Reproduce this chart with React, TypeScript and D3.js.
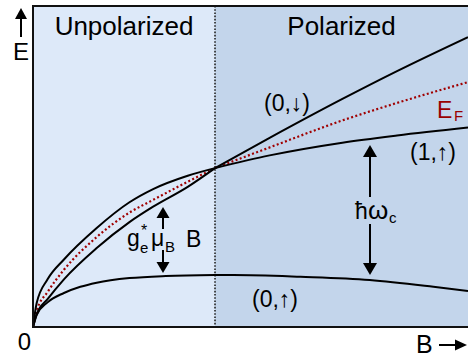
import React from "react";
import * as d3 from "d3";

// Landau-level energies vs magnetic field, in units where the
// polarization threshold sits at B = 1, E = 1.
const leftB = [0, 0.02, 0.08, 0.17, 0.35, 0.53, 0.66, 0.85, 1.0];
const rightB = [1.0, 1.3, 1.7, 2.0, 2.39];

// (0,↓) level
const spinDownLeft = [0, 0.15, 0.3, 0.425, 0.623, 0.785, 0.868, 0.952, 1.0];
const spinDownRight = [1.0, 1.19, 1.435, 1.61, 1.824];

// Fermi energy
const fermiLeft = [0, 0.1, 0.22, 0.36, 0.566, 0.72, 0.8, 0.914, 1.0];
const fermiRight = [1.0, 1.13, 1.3, 1.41, 1.541];

// (1,↑) level
const firstUpLeft = [0, 0.08, 0.175, 0.3, 0.497, 0.66, 0.757, 0.882, 1.0];
const firstUpRight = [1.0, 1.08, 1.16, 1.205, 1.255];

// (0,↑) level
const groundUpB = [0, 0.02, 0.08, 0.17, 0.26, 0.35, 0.53, 0.73, 1.0];
const groundUpLeft = [0, 0.075, 0.155, 0.214, 0.253, 0.279, 0.308, 0.321, 0.327];
const groundUpRightB = [1.0, 1.1, 1.47, 1.85, 2.2, 2.39];
const groundUpRight = [0.327, 0.327, 0.316, 0.296, 0.253, 0.226];

const regionLabels = ["Unpolarized", "Polarized"];
const threshold = 1.0;

const W = 468;
const H = 358;
const FONT = "'Liberation Sans', Arial, Helvetica, sans-serif";

const x = d3.scaleLinear().domain([0, 2.39]).range([33, 468]);
const y = d3.scaleLinear().domain([0, 2.02]).range([327, 6]);

const line = d3
  .line<[number, number]>()
  .x((d) => x(d[0]))
  .y((d) => y(d[1]))
  .curve(d3.curveMonotoneX);

const zip = (bs: number[], es: number[]) =>
  bs.map((b, i) => [b, es[i]] as [number, number]);

function Arrow({ x0, y0, x1, y1, head = 12, half = 6.5 }: any) {
  // shaft from (x0,y0) to (x1,y1), head at (x1,y1)
  const dx = x1 - x0;
  const dy = y1 - y0;
  const len = Math.hypot(dx, dy);
  const ux = dx / len;
  const uy = dy / len;
  const bx = x1 - ux * head;
  const by = y1 - uy * head;
  const px = -uy * half;
  const py = ux * half;
  return (
    <g>
      <line x1={x0} y1={y0} x2={bx} y2={by} stroke="#000" strokeWidth={2} />
      <polygon
        points={`${x1},${y1} ${bx + px},${by + py} ${bx - px},${by - py}`}
        fill="#000"
      />
    </g>
  );
}

export default function App() {
  const xT = x(threshold);
  const blackCurves = [
    zip(leftB, spinDownLeft),
    zip(rightB, spinDownRight),
    zip(leftB, firstUpLeft),
    zip(rightB, firstUpRight),
    zip(groundUpB, groundUpLeft),
    zip(groundUpRightB, groundUpRight),
  ];
  const fermiCurves = [zip(leftB, fermiLeft), zip(rightB, fermiRight)];
  const x0 = x(0);
  const xEnd = x(2.39);
  const yTop = y(2.02);
  const yBot = y(0);

  return (
    <svg
      width={W}
      height={H}
      style={{ position: "absolute", left: 0, top: 0, display: "block" }}
      fontFamily={FONT}
    >
      <rect x={0} y={0} width={W} height={H} fill="#fff" />
      {/* regions */}
      <rect x={x0} y={yTop} width={xT - x0} height={yBot - yTop} fill="#dde9f9" />
      <rect x={xT} y={yTop} width={xEnd - xT} height={yBot - yTop} fill="#c3d5eb" />
      <line
        x1={xT}
        x2={xT}
        y1={yTop}
        y2={yBot}
        stroke="#222"
        strokeWidth={1.6}
        strokeDasharray="1.6,1.6"
      />

      {/* curves */}
      {fermiCurves.map((c, i) => (
        <path
          key={"f" + i}
          d={line(c) || ""}
          fill="none"
          stroke="#a00000"
          strokeWidth={2.2}
          strokeDasharray="2,2.4"
        />
      ))}
      {blackCurves.map((c, i) => (
        <path key={"c" + i} d={line(c) || ""} fill="none" stroke="#000" strokeWidth={2} />
      ))}

      {/* frame */}
      <path
        d={`M${xEnd},${yTop} H${x0} V${yBot} H${xEnd}`}
        fill="none"
        stroke="#111"
        strokeWidth={2}
      />

      {/* region titles */}
      <text x={(x0 + xT) / 2} y={35} fontSize={26} textAnchor="middle">
        {regionLabels[0]}
      </text>
      <text x={(xT + xEnd) / 2} y={35} fontSize={26} textAnchor="middle">
        {regionLabels[1]}
      </text>

      {/* axes labels */}
      <Arrow x0={21} y0={37} x1={21} y1={8} head={11} half={6} />
      <text x={13} y={60} fontSize={24}>
        E
      </text>
      <text x={24.5} y={350} fontSize={24} textAnchor="middle">
        0
      </text>
      <text x={416} y={353} fontSize={25}>
        B
      </text>
      <Arrow x0={439} y0={345} x1={467} y1={345} head={12} half={5.5} />

      {/* level labels */}
      <text x={264} y={111} fontSize={23}>
        (0,↓)
      </text>
      <text x={410} y={160} fontSize={23}>
        (1,↑)
      </text>
      <text x={252} y={307} fontSize={23}>
        (0,↑)
      </text>
      <text y={118} fill="#990000" fontSize={23}>
        <tspan x={437}>E</tspan>
        <tspan x={454} y={121} fontSize={15}>
          F
        </tspan>
      </text>

      {/* Zeeman splitting */}
      <Arrow x0={163} y0={229} x1={163} y1={207} head={11} half={6.5} />
      <Arrow x0={163} y0={250} x1={163} y1={273} head={11} half={6.5} />
      <text y={246} fontSize={23}>
        <tspan x={127}>g</tspan>
        <tspan x={141} y={236} fontSize={16}>
          *
        </tspan>
        <tspan x={140} y={253} fontSize={15}>
          e
        </tspan>
        <tspan x={151} y={246} fontSize={23}>
          μ
        </tspan>
        <tspan x={165} y={252} fontSize={15}>
          B
        </tspan>
        <tspan x={186} y={247} fontSize={23}>
          B
        </tspan>
      </text>

      {/* cyclotron gap */}
      <Arrow x0={370} y0={197} x1={370} y1={145} head={12} half={7} />
      <Arrow x0={370} y0={224} x1={370} y1={275} head={12} half={7} />
      <text y={219} fontSize={23}>
        <tspan x={355}>ħ</tspan>
        <tspan x={368} fontSize={26}>
          ω
        </tspan>
        <tspan x={389} y={223} fontSize={15}>
          c
        </tspan>
      </text>
    </svg>
  );
}
